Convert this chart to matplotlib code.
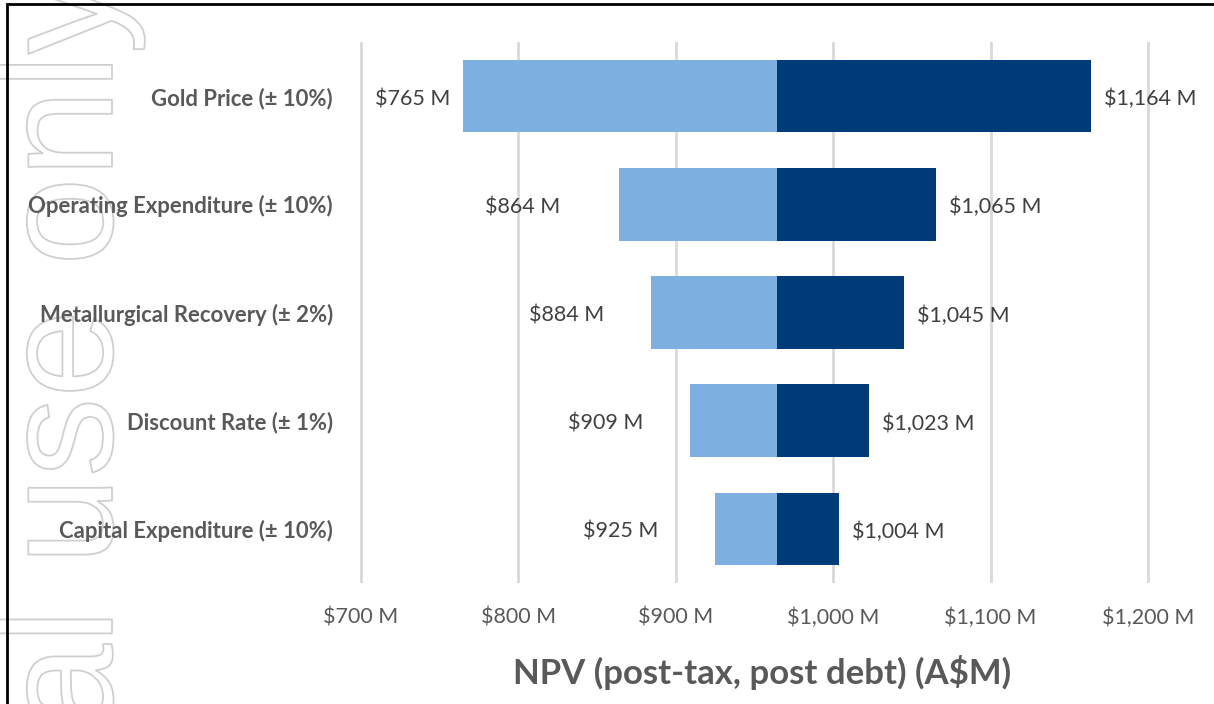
import matplotlib
matplotlib.use("Agg")
import matplotlib.pyplot as plt
import matplotlib.patheffects as pe
from matplotlib.patches import Rectangle

# Sensitivity data (NPV, A$M)
categories = ["Gold Price (± 10%)", "Operating Expenditure (± 10%)",
              "Metallurgical Recovery (± 2%)", "Discount Rate (± 1%)",
              "Capital Expenditure (± 10%)"]
low_values = [765, 864, 884, 909, 925]
high_values = [1164, 1065, 1045, 1023, 1004]
base_npv = 964
xticks = [700, 800, 900, 1000, 1100, 1200]

# label gaps (pixels) between the left bar end and its label, as placed in the original
left_gaps = [13, 59, 46, 47, 57]

light = "#7DAFE0"
dark = "#003B79"
txt = "#595959"

plt.rcParams["font.family"] = ["Lato", "DejaVu Sans"]

W, H = 1214, 704
fig = plt.figure(figsize=(W / 100, H / 100), dpi=100)

# axes: xlim 690..1210 mapped so that 700 -> px 361 and 1200 -> px 1148
ppu = (1148 - 361) / 500
x0 = 361 - 10 * ppu
x1 = 1148 + 10 * ppu
ax = fig.add_axes([x0 / W, (H - 583) / H, (x1 - x0) / W, (583 - 42) / H])
ax.set_xlim(690, 1210)
ax.set_ylim(4.5, -0.5)

ypos = list(range(len(categories)))
lows = [lv - base_npv for lv in low_values]
highs = [hv - base_npv for hv in high_values]
ax.barh(ypos, lows, left=base_npv, height=0.67, color=light, zorder=2)
ax.barh(ypos, highs, left=base_npv, height=0.67, color=dark, zorder=2)

for i, (lv, hv) in enumerate(zip(low_values, high_values)):
    ax.annotate(f"${lv:,} M", (lv, i), xytext=(-left_gaps[i], -3),
                textcoords="offset pixels", ha="right", va="center",
                fontsize=15.5, color="#404040")
    ax.annotate(f"${hv:,} M", (hv, i), xytext=(13, -3),
                textcoords="offset pixels", ha="left", va="center",
                fontsize=15.5, color="#404040", annotation_clip=False)

ax.set_yticks(ypos)
ax.set_yticklabels(categories, fontsize=15.9, fontweight="bold", color=txt)
ax.set_xticks(xticks)
ax.set_xticklabels([f"${v:,} M" for v in xticks], fontsize=15.5, color=txt)
ax.tick_params(axis="y", length=0, pad=9)
ax.tick_params(axis="x", length=0, pad=18)
ax.grid(axis="x", color="#d9d9d9", linewidth=2, zorder=0)
ax.set_axisbelow(True)
for s in ax.spines.values():
    s.set_visible(False)

ax.set_xlabel("NPV (post-tax, post debt) (A$M)", fontsize=25, fontweight="bold", color=txt)
ax.xaxis.set_label_coords((762 - x0) / (x1 - x0), (583 - 673) / (583 - 42))
ax.xaxis.label.set_va("center")

# watermark
fig.text(112 / W, (H + 25) / H, "al use only", rotation=90, rotation_mode="anchor",
         ha="right", va="baseline", fontsize=114, family="Liberation Sans",
         color="white", zorder=-1,
         path_effects=[pe.Stroke(linewidth=1.3, foreground="#cfcfcf")])

# frame
fig.add_artist(Rectangle((7 / W, -0.05), 1.2, (H - 4) / H + 0.05, transform=fig.transFigure,
                         fill=False, edgecolor="black", linewidth=2, zorder=10))

fig.savefig("out.png", dpi=100, facecolor="white")
